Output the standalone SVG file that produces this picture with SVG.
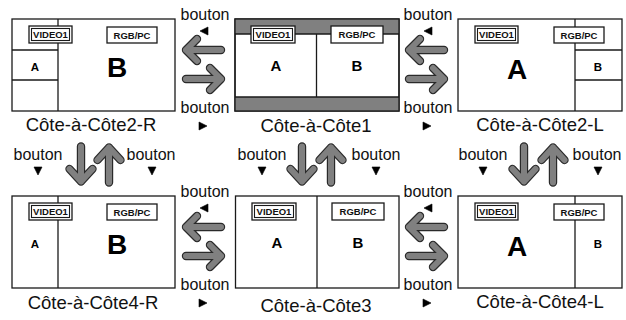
<svg xmlns="http://www.w3.org/2000/svg" xmlns:xlink="http://www.w3.org/1999/xlink" width="626" height="320" viewBox="0 0 626 320">
<style>
.scr{fill:#fff;stroke:#1a1a1a;stroke-width:1.3}
.ln{stroke:#1a1a1a;stroke-width:1.3;fill:none}
.band{fill:#808080;stroke:none}
.lbox{fill:#fff;stroke:#1a1a1a;stroke-width:1.3}
.lbin{fill:none;stroke:#1a1a1a;stroke-width:1.1}
.lt{font-family:"Liberation Sans",Arial,sans-serif;font-weight:bold;font-size:9.5px;text-anchor:middle;fill:#111}
.big{font-family:"Liberation Sans",Arial,sans-serif;font-weight:bold;font-size:28px;text-anchor:middle;fill:#000}
.mid{font-family:"Liberation Sans",Arial,sans-serif;font-weight:bold;font-size:15px;text-anchor:middle;fill:#000}
.sm{font-family:"Liberation Sans",Arial,sans-serif;font-weight:bold;font-size:11.5px;text-anchor:middle;fill:#000}
.ttl{font-family:"Liberation Sans",Arial,sans-serif;font-size:18.5px;text-anchor:middle;fill:#111}
.btn{font-family:"Liberation Sans",Arial,sans-serif;font-size:16px;text-anchor:middle;fill:#111}
.ao{fill:none;stroke:#2a2a2a;stroke-width:8.4;stroke-linecap:round;stroke-linejoin:round}
.ai{fill:none;stroke:#808080;stroke-width:6;stroke-linecap:round;stroke-linejoin:round}
.tri{fill:#000;stroke:#000;stroke-width:0.6;stroke-linejoin:miter}
</style>
<defs>
<g id="aL"><path class="ao" d="M17.5 0H-17.5M-6.5 -11L-17.5 0L-6.5 11"/><path class="ai" d="M17.5 0H-17.5M-6.5 -11L-17.5 0L-6.5 11"/></g>
<g id="aR"><path class="ao" d="M-17.5 0H17.5M6.5 -11L17.5 0L6.5 11"/><path class="ai" d="M-17.5 0H17.5M6.5 -11L17.5 0L6.5 11"/></g>
<g id="aD"><path class="ao" d="M0 -17.5V17.5M-11.5 5L0 17.5L11.5 5"/><path class="ai" d="M0 -17.5V17.5M-11.5 5L0 17.5L11.5 5"/></g>
<g id="aU"><path class="ao" d="M0 17.5V-17.5M-11.5 -5L0 -17.5L11.5 -5"/><path class="ai" d="M0 17.5V-17.5M-11.5 -5L0 -17.5L11.5 -5"/></g>
</defs>

<g id="cote2R">
<rect class="scr" x="12" y="19" width="163" height="92"/>
<path class="ln" d="M58 19V111M12 50H58M12 80H58"/>
<rect class="lbox" x="29" y="26" width="43" height="17"/><rect class="lbin" x="31.5" y="28.5" width="38" height="12"/>
<text class="lt" x="50.5" y="38">VIDEO1</text>
<rect class="lbox" x="107" y="27" width="50" height="16"/><text class="lt" x="132" y="38.5">RGB/PC</text>
<text class="sm" x="35" y="71">A</text>
<text class="big" x="117" y="77">B</text>
<text class="ttl" x="91" y="131">Côte-à-Côte2-R</text>
</g>

<g id="cote1">
<rect class="scr" x="235" y="19" width="164" height="92"/>
<rect class="band" x="235" y="19" width="164" height="15"/>
<rect class="band" x="235" y="97" width="164" height="14"/>
<path class="ln" d="M316.5 34V97M235 34H399M235 97H399"/>
<rect fill="none" stroke="#1a1a1a" stroke-width="1.3" x="235" y="19" width="164" height="92"/>
<rect class="lbox" x="251" y="26" width="44" height="17"/><rect class="lbin" x="253.5" y="28.5" width="39" height="12"/>
<text class="lt" x="273" y="38">VIDEO1</text>
<rect class="lbox" x="331" y="26" width="52" height="17"/><text class="lt" x="357" y="38">RGB/PC</text>
<text class="mid" x="276" y="71">A</text>
<text class="mid" x="357" y="71">B</text>
<text class="ttl" x="316" y="132">Côte-à-Côte1</text>
</g>

<g id="cote2L">
<rect class="scr" x="458" y="19" width="164" height="92"/>
<path class="ln" d="M575 19V111M575 50H622M575 80H622"/>
<rect class="lbox" x="475" y="26" width="43" height="17"/><rect class="lbin" x="477.5" y="28.5" width="38" height="12"/>
<text class="lt" x="496.5" y="38">VIDEO1</text>
<rect class="lbox" x="554" y="27" width="50" height="16"/><text class="lt" x="579" y="38.5">RGB/PC</text>
<text class="big" x="517" y="79">A</text>
<text class="sm" x="598" y="71">B</text>
<text class="ttl" x="540" y="131">Côte-à-Côte2-L</text>
</g>

<g id="cote4R">
<rect class="scr" x="12" y="196" width="163" height="92"/>
<path class="ln" d="M58 196V288"/>
<rect class="lbox" x="29" y="203" width="43" height="17"/><rect class="lbin" x="31.5" y="205.5" width="38" height="12"/>
<text class="lt" x="50.5" y="215">VIDEO1</text>
<rect class="lbox" x="107" y="204" width="50" height="16"/><text class="lt" x="132" y="215.5">RGB/PC</text>
<text class="sm" x="35" y="248">A</text>
<text class="big" x="117" y="254">B</text>
<text class="ttl" x="93" y="309">Côte-à-Côte4-R</text>
</g>

<g id="cote3">
<rect class="scr" x="235.5" y="196" width="163.5" height="92"/>
<path class="ln" d="M317 196V288"/>
<rect class="lbox" x="252" y="203" width="44" height="17"/><rect class="lbin" x="254.5" y="205.5" width="39" height="12"/>
<text class="lt" x="274" y="215">VIDEO1</text>
<rect class="lbox" x="332" y="203" width="52" height="17"/><text class="lt" x="358" y="215">RGB/PC</text>
<text class="mid" x="277" y="248">A</text>
<text class="mid" x="358" y="248">B</text>
<text class="ttl" x="316" y="312">Côte-à-Côte3</text>
</g>

<g id="cote4L">
<rect class="scr" x="458" y="196" width="164" height="92"/>
<path class="ln" d="M575 196V288"/>
<rect class="lbox" x="475" y="203" width="43" height="17"/><rect class="lbin" x="477.5" y="205.5" width="38" height="12"/>
<text class="lt" x="496.5" y="215">VIDEO1</text>
<rect class="lbox" x="554" y="204" width="50" height="16"/><text class="lt" x="579" y="215.5">RGB/PC</text>
<text class="big" x="517" y="256">A</text>
<text class="sm" x="598" y="248">B</text>
<text class="ttl" x="540" y="308">Côte-à-Côte4-L</text>
</g>

<g id="connectors">
<text class="btn" x="205" y="20">bouton</text><polygon class="tri" points="208,27 208,35 200,31"/>
<use href="#aL" x="203.5" y="50"/><use href="#aR" x="203.5" y="79"/>
<text class="btn" x="205" y="113">bouton</text><polygon class="tri" points="199,122 199,130 207,126"/>
<text class="btn" x="428" y="20">bouton</text><polygon class="tri" points="432,27 432,35 424,31"/>
<use href="#aL" x="426.5" y="50"/><use href="#aR" x="426.5" y="79"/>
<text class="btn" x="428" y="113">bouton</text><polygon class="tri" points="423,122 423,130 431,126"/>
<text class="btn" x="205" y="197">bouton</text><polygon class="tri" points="208,204 208,212 200,208"/>
<use href="#aL" x="203.5" y="227"/><use href="#aR" x="203.5" y="256"/>
<text class="btn" x="205" y="290">bouton</text><polygon class="tri" points="199,299 199,307 207,303"/>
<text class="btn" x="428" y="197">bouton</text><polygon class="tri" points="432,204 432,212 424,208"/>
<use href="#aL" x="426.5" y="227"/><use href="#aR" x="426.5" y="256"/>
<text class="btn" x="428" y="290">bouton</text><polygon class="tri" points="423,299 423,307 431,303"/>
<text class="btn" x="38" y="160">bouton</text><polygon class="tri" points="34,167 42,167 38,175"/>
<use href="#aD" x="81" y="164"/><use href="#aU" x="109" y="165"/>
<text class="btn" x="151" y="160">bouton</text><polygon class="tri" points="148,167 156,167 152,175"/>
<text class="btn" x="262" y="160">bouton</text><polygon class="tri" points="258,167 266,167 262,175"/>
<use href="#aD" x="302" y="164"/><use href="#aU" x="331" y="165"/>
<text class="btn" x="376" y="160">bouton</text><polygon class="tri" points="372,167 380,167 376,175"/>
<text class="btn" x="483" y="160">bouton</text><polygon class="tri" points="479,167 487,167 483,175"/>
<use href="#aD" x="524" y="164"/><use href="#aU" x="553" y="165"/>
<text class="btn" x="597" y="160">bouton</text><polygon class="tri" points="594,167 602,167 598,175"/>
</g>
</svg>
